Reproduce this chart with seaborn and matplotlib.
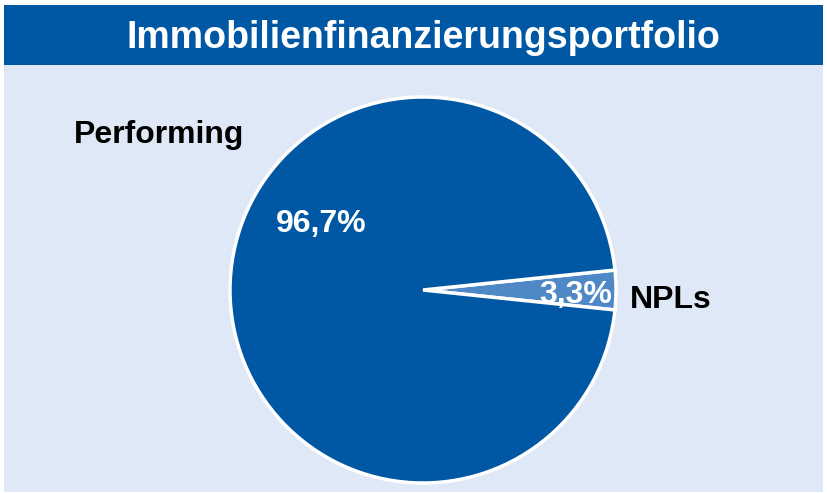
import seaborn as sns
import matplotlib.pyplot as plt
from matplotlib.patches import Rectangle

sns.set_theme(style="white")
plt.rcParams['font.family'] = ['Liberation Sans', 'DejaVu Sans']

title = "Immobilienfinanzierungsportfolio"
labels = ["NPLs", "Performing"]
values = [3.3, 96.7]
pct_labels = ["3,3%", "96,7%"]

dark = "#0057a3"
light = "#4f88c6"
bg = "#dfe8f6"

fig = plt.figure(figsize=(8.27, 4.93), dpi=100)
fig.patch.set_facecolor("white")

# light panel and title bar
fig.patches.append(Rectangle((4/827, 1/493), 819/827, 427/493, transform=fig.transFigure,
                             facecolor=bg, edgecolor="none", zorder=-2))
fig.patches.append(Rectangle((4/827, 428/493), 819/827, 60/493, transform=fig.transFigure,
                             facecolor=dark, edgecolor="none", zorder=-2))
fig.text(423/827, 455/493, title, color="white", fontsize=27, fontweight="bold",
         ha="center", va="center")

ax = fig.add_axes([230/827, 10/493, 386/827, 386/493])
ax.set_zorder(2)
ax.set_facecolor("none")
wedges, txts = ax.pie(values, colors=[light, dark], startangle=-values[0] * 3.6 / 2,
                      counterclock=True, radius=1,
                      wedgeprops=dict(edgecolor="white", linewidth=2.5))
ax.set_xlim(-1, 1)
ax.set_ylim(-1, 1)
ax.set_aspect("equal")
ax.axis("off")

fs = 23
# percentage labels inside the wedges
ax.text(0.79, -0.025, pct_labels[0], color="white", fontsize=fs, fontweight="bold",
        ha="center", va="center", clip_on=False)
ax.text(-0.53, 0.34, pct_labels[1], color="white", fontsize=fs, fontweight="bold",
        ha="center", va="center", clip_on=False)
# category labels outside
ax.text(1.07, -0.05, labels[0], color="black", fontsize=fs, fontweight="bold",
        ha="left", va="center", clip_on=False)
ax.text(-1.365, 0.805, labels[1], color="black", fontsize=fs, fontweight="bold",
        ha="center", va="center", clip_on=False)

fig.savefig("out.png", dpi=100, facecolor=fig.get_facecolor())
